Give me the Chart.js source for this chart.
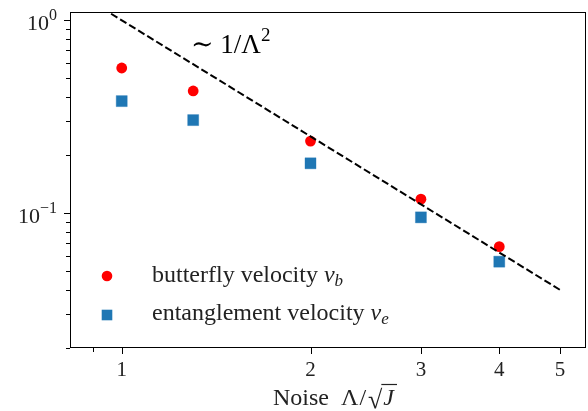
<!DOCTYPE html>
<html>
<head>
<meta charset="utf-8">
<script src="https://cdn.jsdelivr.net/npm/chart.js@4.4.0/dist/chart.umd.min.js"></script>
<style>
  html, body { margin: 0; padding: 0; background: #fff; overflow: hidden; }
  canvas { display: block; }
</style>
</head>
<body>
<canvas id="velocity-canvas" width="588" height="411"></canvas>
<script>
// data
const noise = [1, 1.3, 2, 3, 4]
const butterflyVelocity = [0.564, 0.429, 0.236, 0.118, 0.067]
const entanglementVelocity = [0.38, 0.303, 0.181, 0.095, 0.056]

// guide line ~ 1/Lambda^2
const fitNoise = [0.9, 5]
const fitVelocity = [1.23, 0.04]

// ticks
const xMajorTicks = [1, 2, 3, 4, 5]
const xMinorTicks = [0.9]
const yMajorTicks = [1, 0.1]
const yMajorExp = ['0', '\u22121']
const yMinorTicks = [0.02, 0.03, 0.04, 0.05, 0.06, 0.07, 0.08, 0.09, 0.2, 0.3, 0.4, 0.5, 0.6, 0.7, 0.8, 0.9]

const SERIF = '"Liberation Serif", "DejaVu Serif", serif'

function toPoints(xs, ys) {
  return xs.map((x, i) => ({ x: x, y: ys[i] }))
}

// draw a list of text pieces one after another
function drawPieces(ctx, pieces, x, y) {
  let cx = x
  pieces.forEach(p => {
    ctx.font = p.font
    ctx.fillText(p.t, cx, y + (p.dy || 0))
    cx += ctx.measureText(p.t).width + (p.gap || 0)
  })
  return cx
}

const axesPlugin = {
  id: 'axesPlugin',
  afterDraw(chart) {
    const ctx = chart.ctx
    const a = chart.chartArea
    const xs = chart.scales.x
    const ys = chart.scales.y
    ctx.save()
    ctx.strokeStyle = '#000'
    ctx.fillStyle = '#000'
    ctx.lineWidth = 1
    ctx.strokeRect(a.left + 0.5, a.top + 0.5, a.right - a.left - 1, a.bottom - a.top - 1)

    // ticks
    ctx.beginPath()
    xMajorTicks.forEach(v => {
      const px = Math.round(xs.getPixelForValue(v)) + 0.5
      ctx.moveTo(px, a.bottom); ctx.lineTo(px, a.bottom + 6)
    })
    xMinorTicks.forEach(v => {
      const px = Math.round(xs.getPixelForValue(v)) + 0.5
      ctx.moveTo(px, a.bottom); ctx.lineTo(px, a.bottom + 4)
    })
    yMajorTicks.forEach(v => {
      const py = Math.round(ys.getPixelForValue(v)) + 0.5
      ctx.moveTo(a.left, py); ctx.lineTo(a.left - 6, py)
    })
    yMinorTicks.forEach(v => {
      const py = Math.round(ys.getPixelForValue(v)) + 0.5
      ctx.moveTo(a.left, py); ctx.lineTo(a.left - 4, py)
    })
    ctx.stroke()

    // x tick labels
    ctx.textAlign = 'center'
    ctx.textBaseline = 'alphabetic'
    ctx.fillStyle = '#222'
    ctx.font = '21px ' + SERIF
    xMajorTicks.forEach(v => {
      ctx.fillText(String(v), xs.getPixelForValue(v), a.bottom + 28)
    })

    // y tick labels 10^n
    ctx.textAlign = 'left'
    yMajorTicks.forEach((v, i) => {
      const py = ys.getPixelForValue(v)
      ctx.font = '22px ' + SERIF
      const w10 = ctx.measureText('10').width
      ctx.font = '16px ' + SERIF
      const wExp = ctx.measureText(yMajorExp[i]).width
      const x0 = a.left - 13 - w10 - wExp
      drawPieces(ctx, [
        { t: '10', font: '22px ' + SERIF },
        { t: yMajorExp[i], font: '16px ' + SERIF, dy: -10 },
      ], x0, py + 10)
    })

    // x axis title: Noise  Λ/√J
    ctx.fillStyle = '#222'
    let cx = drawPieces(ctx, [
      { t: 'Noise  ', font: '24px ' + SERIF },
      { t: '\u039B', font: '24px ' + SERIF, gap: 1 },
      { t: '/', font: '24px ' + SERIF, gap: 2 },
    ], 273, 405)
    ctx.font = '26px ' + SERIF
    ctx.fillText('\u221A', cx, 408)
    const rw = ctx.measureText('\u221A').width
    cx += rw + 1
    ctx.font = 'italic 24px ' + SERIF
    const jw = ctx.measureText('J').width
    ctx.fillText('J', cx, 405)
    ctx.beginPath()
    ctx.lineWidth = 1.2
    ctx.strokeStyle = '#222'
    ctx.moveTo(cx - 2, 384.5); ctx.lineTo(cx + jw + 3, 384.5)
    ctx.stroke()

    // annotation ~ 1/Λ²
    ctx.fillStyle = '#000'
    drawPieces(ctx, [
      { t: '\u223C ', font: '27px ' + SERIF },
      { t: '1/\u039B', font: '27px ' + SERIF },
      { t: '2', font: '19px ' + SERIF, dy: -12 },
    ], 191, 53)

    // legend
    const lx = 107
    ctx.fillStyle = '#ff0000'
    ctx.beginPath()
    ctx.arc(lx, 276, 5.3, 0, Math.PI * 2)
    ctx.fill()
    ctx.fillStyle = '#1f77b4'
    ctx.fillRect(lx - 5.3, 315 - 5.3, 10.6, 10.6)

    ctx.fillStyle = '#222'
    drawPieces(ctx, [
      { t: 'butterfly velocity ', font: '24px ' + SERIF },
      { t: 'v', font: 'italic 24px ' + SERIF },
      { t: 'b', font: 'italic 17px ' + SERIF, dy: 4 },
    ], 152, 282)
    drawPieces(ctx, [
      { t: 'entanglement velocity ', font: '24px ' + SERIF },
      { t: 'v', font: 'italic 24px ' + SERIF },
      { t: 'e', font: 'italic 17px ' + SERIF, dy: 4 },
    ], 152, 320)
    ctx.restore()
  },
}

function generateVelocityChart() {
  const ctx = document.getElementById('velocity-canvas').getContext('2d')

  const velocityChart = new Chart(ctx, {
    type: 'scatter',
    data: {
      datasets: [
        {
          label: 'fit',
          data: toPoints(fitNoise, fitVelocity),
          showLine: true,
          borderColor: '#000',
          borderWidth: 2,
          borderDash: [7.4, 3.2],
          pointRadius: 0,
          fill: false,
          clip: 0,
        },
        {
          label: 'butterfly velocity',
          data: toPoints(noise, butterflyVelocity),
          pointStyle: 'circle',
          pointRadius: 5.4,
          backgroundColor: '#ff0000',
          borderColor: '#ff0000',
          borderWidth: 0,
        },
        {
          label: 'entanglement velocity',
          data: toPoints(noise, entanglementVelocity),
          pointStyle: 'rect',
          pointRadius: 7.8,
          backgroundColor: '#1f77b4',
          borderColor: 'rgba(31, 119, 180, 0.6)',
          borderWidth: 0.6,
        },
      ],
    },
    options: {
      responsive: false,
      animation: false,
      layout: {
        autoPadding: false,
        padding: { left: 70, right: 2, top: 12, bottom: 63 },
      },
      scales: {
        x: {
          type: 'logarithmic',
          display: false,
          min: 0.827,
          max: 5.5,
        },
        y: {
          type: 'logarithmic',
          display: false,
          min: 0.02,
          max: 1.1,
        },
      },
      plugins: {
        legend: { display: false },
        tooltip: { enabled: false },
      },
    },
    plugins: [axesPlugin],
  })
}

generateVelocityChart()
</script>
</body>
</html>
